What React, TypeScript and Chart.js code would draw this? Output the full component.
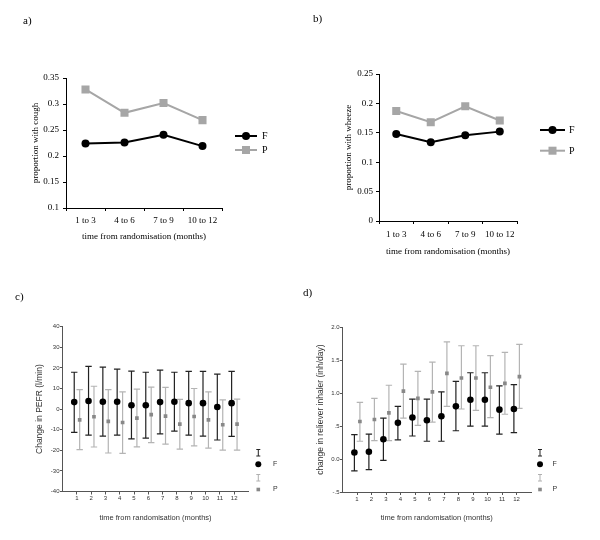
import React, { useEffect, useRef } from "react";
import { Chart, registerables } from "chart.js";

Chart.register(...registerables);

// ---------- data ----------
const periods = ["1 to 3", "4 to 6", "7 to 9", "10 to 12"];
const coughF = [0.224, 0.226, 0.241, 0.219];
const coughP = [0.328, 0.283, 0.302, 0.269];
const coughTickLabels = ["0.1", "0.15", "0.2", "0.25", "0.3", "0.35"];

const wheezeF = [0.148, 0.134, 0.146, 0.152];
const wheezeP = [0.187, 0.168, 0.195, 0.171];
const wheezeTickLabels = ["0", "0.05", "0.1", "0.15", "0.2", "0.25"];

const months = [1, 2, 3, 4, 5, 6, 7, 8, 9, 10, 11, 12];

const pefrF = [3.4, 3.9, 3.6, 3.6, 1.9, 1.9, 3.4, 3.6, 2.9, 2.9, 1.0, 2.9];
const pefrFHigh = [17.9, 20.7, 20.4, 19.4, 18.4, 17.9, 18.9, 17.9, 18.3, 18.3, 17.0, 18.3];
const pefrFLow = [-11.3, -12.6, -13.1, -12.6, -14.5, -14.1, -12.0, -10.7, -12.6, -13.1, -15.0, -13.2];
const pefrP = [-5.2, -3.7, -6.0, -6.5, -4.4, -2.7, -3.4, -7.3, -3.6, -5.2, -7.6, -7.3];
const pefrPHigh = [9.5, 11.1, 9.5, 8.4, 9.7, 10.7, 10.5, 4.7, 10.0, 8.4, 4.5, 4.8];
const pefrPLow = [-19.7, -18.4, -21.3, -21.5, -18.3, -16.3, -17.0, -19.4, -17.9, -18.9, -19.9, -19.9];
const pefrTickLabels = ["-40", "-30", "-20", "-10", "0", "10", "20", "30", "40"];

const relF = [0.10, 0.11, 0.30, 0.55, 0.63, 0.59, 0.65, 0.80, 0.90, 0.90, 0.75, 0.76];
const relFHigh = [0.37, 0.38, 0.62, 0.80, 0.91, 0.91, 1.02, 1.18, 1.31, 1.31, 1.11, 1.13];
const relFLow = [-0.18, -0.16, -0.02, 0.29, 0.35, 0.27, 0.27, 0.43, 0.50, 0.50, 0.38, 0.40];
const relP = [0.57, 0.60, 0.70, 1.03, 0.92, 1.02, 1.30, 1.23, 1.23, 1.09, 1.15, 1.25];
const relPHigh = [0.86, 0.92, 1.12, 1.44, 1.33, 1.47, 1.78, 1.72, 1.72, 1.57, 1.62, 1.74];
const relPLow = [0.27, 0.28, 0.28, 0.62, 0.51, 0.56, 0.80, 0.76, 0.74, 0.63, 0.68, 0.77];
const relTickLabels = ["-.5", "0.0", ".5", "1.0", "1.5", "2.0"];

// ---------- styles ----------
const SERIF = "'Liberation Serif', 'Times New Roman', serif";
const SANS = "'Liberation Sans', Arial, sans-serif";
const W = 300;
const H = 270;
const GREY_LINE = "#a6a6a6";
const F_OFFSET = -0.18;
const P_OFFSET = 0.2;

function frame(L: number, T: number, R: number, B: number) {
  return {
    layout: { autoPadding: false, padding: { left: 0, top: T, right: W - R, bottom: 0 } },
    yFit: (s: any) => {
      s.width = L;
    },
    xFit: (s: any) => {
      s.height = H - B;
    },
  };
}

function tickFromList(list: string[], min: number, step: number) {
  return (v: any) => list[Math.round((Number(v) - min) / step)];
}

function drawSquare(ctx: CanvasRenderingContext2D, x: number, y: number, half: number, color: string) {
  ctx.fillStyle = color;
  ctx.fillRect(x - half, y - half, half * 2, half * 2);
}
function drawDot(ctx: CanvasRenderingContext2D, x: number, y: number, r: number, color: string) {
  ctx.fillStyle = color;
  ctx.beginPath();
  ctx.arc(x, y, r, 0, Math.PI * 2);
  ctx.fill();
}
function drawI(ctx: CanvasRenderingContext2D, x: number, y1: number, y2: number, half: number, color: string, lw: number) {
  ctx.strokeStyle = color;
  ctx.lineWidth = lw;
  ctx.beginPath();
  ctx.moveTo(x, y1);
  ctx.lineTo(x, y2);
  ctx.moveTo(x - half, y1);
  ctx.lineTo(x + half, y1);
  ctx.moveTo(x - half, y2);
  ctx.lineTo(x + half, y2);
  ctx.stroke();
}

// legend for line panels (a, b)
function lineLegend(opts: { x1: number; x2: number; xt: number; yF: number; yP: number }) {
  return {
    id: "lineLegend",
    afterDraw(chart: any) {
      const ctx = chart.ctx as CanvasRenderingContext2D;
      ctx.save();
      const xm = (opts.x1 + opts.x2) / 2;
      const rows = [
        { y: opts.yF, color: "#000", label: "F", dot: true },
        { y: opts.yP, color: GREY_LINE, label: "P", dot: false },
      ];
      for (const r of rows) {
        ctx.strokeStyle = r.color;
        ctx.lineWidth = 2;
        ctx.beginPath();
        ctx.moveTo(opts.x1, r.y);
        ctx.lineTo(opts.x2, r.y);
        ctx.stroke();
        if (r.dot) drawDot(ctx, xm, r.y, 4, r.color);
        else drawSquare(ctx, xm, r.y, 4, r.color);
        ctx.fillStyle = "#000";
        ctx.font = `10px ${SERIF}`;
        ctx.textAlign = "left";
        ctx.textBaseline = "middle";
        ctx.fillText(r.label, opts.xt, r.y + 0.5);
      }
      ctx.restore();
    },
  };
}

// error bars + legend for panels c, d
function errorBars(bars: { low: number[]; high: number[]; color: string }[], leg: { x: number; xt: number }) {
  return {
    id: "errorBars",
    beforeDatasetsDraw(chart: any) {
      const ctx = chart.ctx as CanvasRenderingContext2D;
      const ys = chart.scales.y;
      ctx.save();
      bars.forEach((b, di) => {
        const meta = chart.getDatasetMeta(di);
        meta.data.forEach((pt: any, j: number) => {
          drawI(ctx, pt.x, ys.getPixelForValue(b.high[j]), ys.getPixelForValue(b.low[j]), 3.2, b.color, 1.2);
        });
      });
      ctx.restore();
    },
    afterDraw(chart: any) {
      const ctx = chart.ctx as CanvasRenderingContext2D;
      ctx.save();
      drawI(ctx, leg.x, 179.5, 186, 2, "#222", 1);
      drawDot(ctx, leg.x, 194.3, 3, "#000");
      drawI(ctx, leg.x, 204.5, 211, 2, "#b0b0b0", 1);
      drawSquare(ctx, leg.x, 219.5, 1.8, "#888");
      ctx.fillStyle = "#333";
      ctx.font = `7px ${SANS}`;
      ctx.textAlign = "left";
      ctx.textBaseline = "middle";
      ctx.fillText("F", leg.xt, 194.3);
      ctx.fillText("P", leg.xt, 219.5);
      ctx.restore();
    },
  };
}

function linePanel(p: {
  fVals: number[];
  pVals: number[];
  min: number;
  max: number;
  step: number;
  tickLabels: string[];
  yTitle: string;
  area: [number, number, number, number];
  xTickPad: number;
  xTitlePad: number;
  yTitlePad: number;
  yTickPad: number;
  legend: { x1: number; x2: number; xt: number; yF: number; yP: number };
}) {
  const f = frame(...p.area);
  const font = { family: SERIF, size: 9 };
  return {
    type: "line",
    data: {
      labels: periods,
      datasets: [
        {
          label: "F",
          data: p.fVals,
          borderColor: "#000",
          backgroundColor: "#000",
          borderWidth: 2,
          pointStyle: "circle",
          pointRadius: 4,
          pointBorderWidth: 0,
        },
        {
          label: "P",
          data: p.pVals,
          borderColor: GREY_LINE,
          backgroundColor: GREY_LINE,
          borderWidth: 2,
          pointStyle: "rect",
          pointRadius: 5.7,
          pointBorderWidth: 0,
        },
      ],
    },
    options: {
      responsive: false,
      animation: false,
      layout: f.layout,
      plugins: { legend: { display: false }, tooltip: { enabled: false } },
      scales: {
        x: {
          type: "category",
          offset: true,
          afterFit: f.xFit,
          grid: { offset: true, drawOnChartArea: false, drawTicks: true, tickLength: 3, color: "#000" },
          border: { display: true, color: "#000", width: 1 },
          ticks: { font, color: "#000", padding: p.xTickPad, maxRotation: 0 },
          title: {
            display: true,
            text: "time from randomisation (months)",
            font,
            color: "#000",
            padding: { top: 0, bottom: p.xTitlePad },
          },
        },
        y: {
          type: "linear",
          min: p.min,
          max: p.max,
          afterFit: f.yFit,
          grid: { drawOnChartArea: false, drawTicks: true, tickLength: 3, color: "#000" },
          border: { display: true, color: "#000", width: 1 },
          ticks: {
            stepSize: p.step,
            font,
            color: "#000",
            padding: p.yTickPad,
            callback: tickFromList(p.tickLabels, p.min, p.step),
          },
          title: {
            display: true,
            text: p.yTitle,
            font,
            color: "#000",
            padding: { top: p.yTitlePad, bottom: 0 },
          },
        },
      },
    },
    plugins: [lineLegend(p.legend)],
  };
}

function errPanel(p: {
  f: number[];
  fLow: number[];
  fHigh: number[];
  pv: number[];
  pLow: number[];
  pHigh: number[];
  min: number;
  max: number;
  step: number;
  tickLabels: string[];
  yTitle: string;
  area: [number, number, number, number];
  yTitlePad: number;
  legX: number;
  legXt: number;
}) {
  const fr = frame(...p.area);
  const tickFont = { family: SANS, size: 6 };
  return {
    type: "scatter",
    data: {
      datasets: [
        {
          label: "F",
          data: months.map((m, j) => ({ x: m + F_OFFSET, y: p.f[j] })),
          backgroundColor: "#000",
          borderColor: "#000",
          pointStyle: "circle",
          pointRadius: 3.3,
          pointBorderWidth: 0,
          showLine: false,
        },
        {
          label: "P",
          data: months.map((m, j) => ({ x: m + P_OFFSET, y: p.pv[j] })),
          backgroundColor: "#888",
          borderColor: "#888",
          pointStyle: "rect",
          pointRadius: 2.6,
          pointBorderWidth: 0,
          showLine: false,
        },
      ],
    },
    options: {
      responsive: false,
      animation: false,
      layout: fr.layout,
      plugins: { legend: { display: false }, tooltip: { enabled: false } },
      scales: {
        x: {
          type: "linear",
          min: 0,
          max: 13,
          afterFit: fr.xFit,
          afterBuildTicks: (s: any) => {
            s.ticks = months.map((m) => ({ value: m }));
          },
          grid: { drawOnChartArea: false, drawTicks: true, tickLength: 3, color: "#555" },
          border: { display: true, color: "#555", width: 1 },
          ticks: { font: tickFont, color: "#333", padding: 0.6, maxRotation: 0, callback: (v: any) => String(v) },
          title: {
            display: true,
            text: "time from randomisation (months)",
            font: { family: SANS, size: 7.5 },
            color: "#333",
            padding: { top: 0, bottom: 17.2 },
          },
        },
        y: {
          type: "linear",
          min: p.min,
          max: p.max,
          afterFit: fr.yFit,
          grid: { drawOnChartArea: false, drawTicks: true, tickLength: 2.5, color: "#555" },
          border: { display: true, color: "#555", width: 1 },
          ticks: {
            stepSize: p.step,
            font: tickFont,
            color: "#333",
            padding: 0.5,
            callback: tickFromList(p.tickLabels, p.min, p.step),
          },
          title: {
            display: true,
            text: p.yTitle,
            font: { family: SANS, size: 8.5 },
            color: "#333",
            padding: { top: p.yTitlePad, bottom: 0 },
          },
        },
      },
    },
    plugins: [
      errorBars(
        [
          { low: p.fLow, high: p.fHigh, color: "#222" },
          { low: p.pLow, high: p.pHigh, color: "#b4b4b4" },
        ],
        { x: p.legX, xt: p.legXt }
      ),
    ],
  };
}

function ChartBox({ left, top, build }: { left: number; top: number; build: () => any }) {
  const ref = useRef<HTMLCanvasElement | null>(null);
  useEffect(() => {
    if (!ref.current) return;
    const chart = new Chart(ref.current, build());
    return () => chart.destroy();
  }, []);
  return (
    <canvas
      ref={ref}
      width={W}
      height={H}
      style={{ position: "absolute", left, top, width: W, height: H }}
    />
  );
}

function PanelLabel({ text, left, top }: { text: string; left: number; top: number }) {
  return (
    <div
      style={{
        position: "absolute",
        left,
        top,
        fontFamily: SERIF,
        fontSize: 11,
        lineHeight: "13px",
        color: "#000",
      }}
    >
      {text}
    </div>
  );
}

export default function App() {
  return (
    <div style={{ position: "absolute", left: 0, top: 0, width: 600, height: 540, background: "#fff", overflow: "hidden" }}>
      <ChartBox
        left={0}
        top={0}
        build={() =>
          linePanel({
            fVals: coughF,
            pVals: coughP,
            min: 0.1,
            max: 0.35,
            step: 0.05,
            tickLabels: coughTickLabels,
            yTitle: "proportion with cough",
            area: [66, 78, 222, 208],
            xTickPad: 4.6,
            xTitlePad: 27.6,
            yTitlePad: 30.6,
            yTickPad: 4,
            legend: { x1: 235, x2: 257, xt: 262, yF: 136, yP: 150 },
          })
        }
      />
      <ChartBox
        left={300}
        top={0}
        build={() =>
          linePanel({
            fVals: wheezeF,
            pVals: wheezeP,
            min: 0,
            max: 0.25,
            step: 0.05,
            tickLabels: wheezeTickLabels,
            yTitle: "proportion with wheeze",
            area: [79, 74, 217, 221],
            xTickPad: 5.6,
            xTitlePad: 12.9,
            yTitlePad: 42.9,
            yTickPad: 3,
            legend: { x1: 240, x2: 265, xt: 269, yF: 130, yP: 150.7 },
          })
        }
      />
      <ChartBox
        left={0}
        top={270}
        build={() =>
          errPanel({
            f: pefrF,
            fLow: pefrFLow,
            fHigh: pefrFHigh,
            pv: pefrP,
            pLow: pefrPLow,
            pHigh: pefrPHigh,
            min: -40,
            max: 40,
            step: 10,
            tickLabels: pefrTickLabels,
            yTitle: "Change in PEFR (l/min)",
            area: [62.5, 56.7, 248.5, 221.5],
            yTitlePad: 34.9,
            legX: 258.3,
            legXt: 273,
          })
        }
      />
      <ChartBox
        left={300}
        top={270}
        build={() =>
          errPanel({
            f: relF,
            fLow: relFLow,
            fHigh: relFHigh,
            pv: relP,
            pLow: relPLow,
            pHigh: relPHigh,
            min: -0.5,
            max: 2.0,
            step: 0.5,
            tickLabels: relTickLabels,
            yTitle: "change in reliever inhaler (inh/day)",
            area: [42.5, 57.3, 231, 222],
            yTitlePad: 15.6,
            legX: 240,
            legXt: 252.5,
          })
        }
      />
      <PanelLabel text="a)" left={23} top={13.5} />
      <PanelLabel text="b)" left={313} top={11.5} />
      <PanelLabel text="c)" left={15} top={289.5} />
      <PanelLabel text="d)" left={303} top={286} />
    </div>
  );
}
